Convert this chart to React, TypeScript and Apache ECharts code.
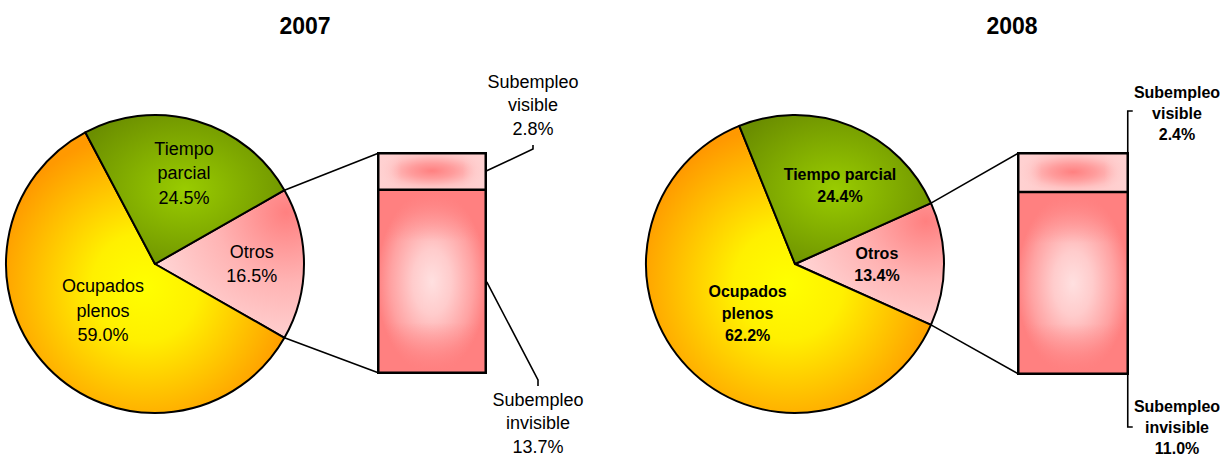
import React, { useEffect, useRef } from "react";
import * as echarts from "echarts";

// ---------- data ----------
const years = ["2007", "2008"];
const pieCategories = ["Otros", "Ocupados plenos", "Tiempo parcial"];
const pieLabels2007 = ["Otros", "Ocupados\nplenos", "Tiempo\nparcial"];
const pieLabels2008 = ["Otros", "Ocupados\nplenos", "Tiempo parcial"];
const pieValues2007 = [16.5, 59.0, 24.5];
const pieValues2008 = [13.4, 62.2, 24.4];
const barCategories = ["Subempleo invisible", "Subempleo visible"];
const barLabels = ["Subempleo\ninvisible", "Subempleo\nvisible"];
const barValues2007 = [13.7, 2.8];
const barValues2008 = [11.0, 2.4];

// ---------- layout ----------
const FONT = 'Arial, "Liberation Sans", Helvetica, sans-serif';
const BORDER = 2.5;
const panels = [
  {
    year: years[0],
    pieValues: pieValues2007,
    pieLabels: pieLabels2007,
    barValues: barValues2007,
    cx: 155, cy: 264, r: 149,
    grid: { left: 377, top: 152, width: 110, height: 222 },
    title: [305, 26],
    bold: false,
    labelFrac: [0.65, 0.47, 0.64],
    labelDAng: [0, -2, -1.5],
    visLabel: [533, 105], invLabel: [538, 423],
    lineHeight: 23.5, fontSize: 18,
  },
  {
    year: years[1],
    pieValues: pieValues2008,
    pieLabels: pieLabels2008,
    barValues: barValues2008,
    cx: 795, cy: 264, r: 149,
    grid: { left: 1017, top: 152, width: 112, height: 223 },
    title: [1012, 26],
    bold: true,
    labelFrac: [0.55, 0.46, 0.61],
    labelDAng: [0, 2.3, -7.7],
    visLabel: [1177, 113], invLabel: [1177, 427],
    lineHeight: 21, fontSize: 16,
  },
];

const sum = (a: number[]) => a.reduce((s, v) => s + v, 0);

const radial = (x: number, y: number, r: number, stops: [number, string][]) => ({
  type: "radial", x, y, r,
  colorStops: stops.map(([offset, color]) => ({ offset, color })),
});
const linear = (x: number, y: number, x2: number, y2: number, stops: [number, string][]) => ({
  type: "linear", x, y, x2, y2,
  colorStops: stops.map(([offset, color]) => ({ offset, color })),
});

const sliceColors = [
  radial(0.88, 0.15, 0.95, [[0, "#FF8080"], [0.5, "#FFB4B4"], [1, "#FFD6D6"]]),
  radial(0.5, 0.55, 0.55, [[0, "#FFFF00"], [0.35, "#FFF000"], [1, "#FF9900"]]),
  radial(0.5, 0.5, 0.6, [[0, "#99CC00"], [1, "#6B8E00"]]),
];

const invBase = radial(0.5, 0.5, 0.5, [
  [0, "#FFE0E0"], [0.35, "#FFCCCC"], [0.75, "#FFA2A2"], [1, "#FF8080"],
]);
const invOver = linear(0, 0, 0, 1, [
  [0, "rgba(255,128,128,1)"], [0.12, "rgba(255,128,128,0.6)"], [0.28, "rgba(255,128,128,0)"],
  [0.72, "rgba(255,128,128,0)"], [0.88, "rgba(255,128,128,0.6)"], [1, "rgba(255,128,128,1)"],
]);
const visBase = radial(0.5, 0.5, 0.5, [
  [0, "#FF8080"], [0.4, "#FF9C9C"], [0.8, "#FFC2C2"], [1, "#FFCCCC"],
]);
const visOver = linear(0, 0, 1, 0, [
  [0, "rgba(255,210,210,1)"], [0.1, "rgba(255,210,210,0.6)"], [0.22, "rgba(255,210,210,0)"],
  [0.78, "rgba(255,210,210,0)"], [0.9, "rgba(255,210,210,0.6)"], [1, "rgba(255,210,210,1)"],
]);

export default function App() {
  const ref = useRef<HTMLDivElement>(null);

  useEffect(() => {
    if (!ref.current) return;
    const chart = echarts.init(ref.current, undefined, { renderer: "svg" });

    const series: any[] = [];
    const grids: any[] = [];
    const xAxes: any[] = [];
    const yAxes: any[] = [];
    const graphics: any[] = [];

    panels.forEach((p, gi) => {
      const total = sum(p.pieValues);
      const startAngle = (p.pieValues[0] / total) * 360 / 2;
      const fw = p.bold ? "bold" : "normal";

      // pie
      series.push({
        type: "pie",
        center: [p.cx, p.cy],
        radius: p.r,
        startAngle,
        clockwise: true,
        avoidLabelOverlap: false,
        silent: true,
        emphasis: { disabled: true },
        itemStyle: { borderColor: "#000", borderWidth: 2 },
        label: {
          show: true,
          position: "inside",
          fontFamily: FONT,
          fontSize: p.fontSize,
          fontWeight: fw,
          lineHeight: p.lineHeight + 1,
          color: "#000",
          align: "center",
          formatter: (prm: any) => `${p.pieLabels[prm.dataIndex]}\n${prm.value.toFixed(1)}%`,
        },
        labelLine: { show: false },
        labelLayout: (prm: any) => {
          let a = startAngle;
          for (let i = 0; i < prm.dataIndex; i++) a -= (p.pieValues[i] / total) * 360;
          const mid = a - (p.pieValues[prm.dataIndex] / total) * 180 + p.labelDAng[prm.dataIndex];
          const rad = (mid * Math.PI) / 180;
          const f = p.labelFrac[prm.dataIndex] * p.r;
          return {
            x: p.cx + f * Math.cos(rad),
            y: p.cy - f * Math.sin(rad),
            align: "center",
            verticalAlign: "middle",
          };
        },
        data: pieCategories.map((name, i) => ({
          name,
          value: p.pieValues[i],
          itemStyle: { color: sliceColors[i] },
        })),
      });

      // bar of pie
      const g = p.grid;
      grids.push({ left: g.left, top: g.top, width: g.width, height: g.height, containLabel: false });
      xAxes.push({ type: "category", gridIndex: gi, data: [p.year], show: false, boundaryGap: true });
      const barTotal = sum(p.barValues);
      yAxes.push({ type: "value", gridIndex: gi, min: 0, max: barTotal, show: false });
      const common = {
        type: "bar", xAxisIndex: gi, yAxisIndex: gi, barWidth: "100%", barGap: "-100%",
        silent: true, emphasis: { disabled: true },
      };
      series.push({ ...common, name: barCategories[0], stack: "base" + gi, data: [p.barValues[0]], itemStyle: { color: invBase }, z: 2 });
      series.push({ ...common, name: barCategories[1], stack: "base" + gi, data: [p.barValues[1]], itemStyle: { color: visBase }, z: 2 });
      series.push({ ...common, name: barCategories[0] + " ", stack: "over" + gi, data: [p.barValues[0]], itemStyle: { color: invOver }, z: 3 });
      series.push({ ...common, name: barCategories[1] + " ", stack: "over" + gi, data: [p.barValues[1]], itemStyle: { color: visOver }, z: 3 });
      // frame around the whole bar
      series.push({
        ...common, name: "total", stack: "frame" + gi, data: [barTotal], z: 4,
        itemStyle: { color: "rgba(0,0,0,0)", borderColor: "#000", borderWidth: BORDER },
      });

      // divider between the two segments
      const divY = g.top + (p.barValues[1] / barTotal) * g.height;
      graphics.push({
        type: "line", z: 10,
        shape: { x1: g.left + 1, y1: divY, x2: g.left + g.width - 1, y2: divY },
        style: { stroke: "#000", lineWidth: BORDER },
      });

      // title
      graphics.push({
        type: "text", x: p.title[0], y: p.title[1],
        style: { text: p.year, fontFamily: FONT, fontSize: 23, fontWeight: "bold", fill: "#000", align: "center", verticalAlign: "middle" },
      });

      // connector lines pie -> bar
      const rad0 = (startAngle * Math.PI) / 180;
      const px = p.cx + p.r * Math.cos(rad0);
      const pyTop = p.cy - p.r * Math.sin(rad0);
      const pyBot = p.cy + p.r * Math.sin(rad0);
      const lineStyle = { stroke: "#000", lineWidth: 1.6 };
      const bx = g.left + BORDER / 2;
      graphics.push({ type: "line", shape: { x1: px, y1: pyTop, x2: bx, y2: g.top + BORDER / 2 }, style: lineStyle });
      graphics.push({ type: "line", shape: { x1: px, y1: pyBot, x2: bx, y2: g.top + g.height - BORDER / 2 }, style: lineStyle });

      // bar labels
      const right = g.left + g.width - BORDER / 2;
      const visMid = g.top + ((p.barValues[1] / 2) / barTotal) * g.height;
      const invMid = g.top + ((p.barValues[1] + p.barValues[0] / 2) / barTotal) * g.height;
      if (!p.bold) {
        graphics.push({ type: "polyline", shape: { points: [[right + 1, visMid], [p.visLabel[0], 149], [p.visLabel[0], 145]] }, style: { ...lineStyle, fill: null } });
        graphics.push({ type: "polyline", shape: { points: [[right + 1, invMid], [p.invLabel[0], 380], [p.invLabel[0], 386]] }, style: { ...lineStyle, fill: null } });
      } else {
        graphics.push({ type: "polyline", shape: { points: [[right + 5, 111], [right, 111], [right, g.top + 1]] }, style: { ...lineStyle, fill: null } });
        graphics.push({ type: "polyline", shape: { points: [[right, g.top + g.height - 1], [right, 427], [right + 5, 427]] }, style: { ...lineStyle, fill: null } });
      }
      const txtStyle = {
        fontFamily: FONT, fontSize: p.fontSize, fontWeight: fw, fill: "#000",
        align: "center", verticalAlign: "middle", lineHeight: p.lineHeight,
      };
      graphics.push({
        type: "text", x: p.visLabel[0], y: p.visLabel[1],
        style: { ...txtStyle, text: `${barLabels[1]}\n${p.barValues[1].toFixed(1)}%` },
      });
      graphics.push({
        type: "text", x: p.invLabel[0], y: p.invLabel[1],
        style: { ...txtStyle, text: `${barLabels[0]}\n${p.barValues[0].toFixed(1)}%` },
      });
    });

    chart.setOption({
      animation: false,
      backgroundColor: "#fff",
      grid: grids,
      xAxis: xAxes,
      yAxis: yAxes,
      series,
      graphic: graphics,
    });

    return () => chart.dispose();
  }, []);

  return (
    <div
      ref={ref}
      style={{ position: "fixed", left: 0, top: 0, width: 1220, height: 455 }}
    />
  );
}
